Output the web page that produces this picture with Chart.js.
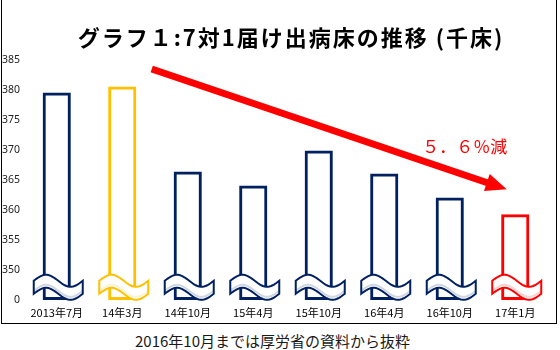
<!DOCTYPE html>
<html lang="ja">
<head>
<meta charset="utf-8">
<title>7対1届け出病床の推移</title>
<script src="https://cdn.jsdelivr.net/npm/chart.js@4/dist/chart.umd.min.js"></script>
<style>
  html, body { margin: 0; padding: 0; background: #fff; }
  body { width: 560px; height: 350px; position: relative; overflow: hidden; }
  #frame {
    position: absolute; left: 1px; top: -1px;
    width: 554px; height: 323px;
    border: 1px solid #000;
  }
  #wrap { position: absolute; left: 0; top: 0; width: 556px; height: 323px; }
  #note {
    position: absolute; left: 0; top: 331px; width: 545px;
    text-align: center;
    font: 15px "Noto Sans CJK JP", sans-serif;
    color: #1a1a1a;
    line-height: 20px;
  }
</style>
</head>
<body>
<div id="frame"></div>
<div id="wrap"><canvas id="bedChart" width="556" height="323"></canvas></div>
<div id="note">2016年10月までは厚労省の資料から抜粋</div>

<script>
// 7対1届け出病床数（千床）
const CATEGORIES = ['2013年7月', '14年3月', '14年10月', '15年4月', '15年10月', '16年4月', '16年10月', '17年1月'];
const BEDS = [379.6, 380.6, 366.4, 364.1, 369.9, 366.1, 362.1, 359.3];
const BAR_COLORS = ['#002060', '#FFC000', '#002060', '#002060', '#002060', '#002060', '#002060', '#FF0000'];

// y axis is cut: the bottom tick stands for 0
const Y_TICKS = [345, 350, 355, 360, 365, 370, 375, 380, 385];
const Y_TICK_LABELS = ['0', '350', '355', '360', '365', '370', '375', '380', '385'];
const Y_BASE = 345;

const TITLE = 'グラフ１:7対1届け出病床の推移 (千床)';
const DROP_LABEL = '５．６％減';

// wavy "break" ribbon over the foot of each bar
const breakRibbons = {
  id: 'breakRibbons',
  afterDatasetsDraw(chart) {
    const { ctx, scales: { x, y } } = chart;
    const top0 = y.getPixelForValue(Y_BASE + 3.2);
    const band = 13;
    const amp = 6;
    BEDS.forEach((_, i) => {
      const cx = x.getPixelForValue(i);
      const left = cx - 23;
      const right = cx + 26;
      const w = right - left;
      const topY = t => top0 - amp * Math.sin(Math.PI * 2 * t);
      const steps = 30;
      const outline = () => {
        ctx.beginPath();
        for (let s = 0; s <= steps; s++) {
          const t = s / steps;
          const px = left + w * t;
          if (s === 0) ctx.moveTo(px, topY(t)); else ctx.lineTo(px, topY(t));
        }
        for (let s = steps; s >= 0; s--) {
          const t = s / steps;
          ctx.lineTo(left + w * t, topY(t) + band);
        }
        ctx.closePath();
      };

      ctx.save();
      outline();
      ctx.fillStyle = '#fff';
      ctx.fill();

      // soft shading near the lower edge
      ctx.beginPath();
      for (let s = 0; s <= steps; s++) {
        const t = s / steps;
        const px = left + w * t;
        const py = topY(t) + band - 3;
        if (s === 0) ctx.moveTo(px, py); else ctx.lineTo(px, py);
      }
      ctx.strokeStyle = BAR_COLORS[i];
      ctx.globalAlpha = 0.18;
      ctx.lineWidth = 2;
      ctx.stroke();
      ctx.globalAlpha = 1;

      outline();
      ctx.strokeStyle = BAR_COLORS[i];
      ctx.lineWidth = 2;
      ctx.stroke();
      ctx.restore();
    });
  }
};

// title, trend arrow and its label
const annotations = {
  id: 'annotations',
  afterDraw(chart) {
    const { ctx, chartArea, scales: { x, y } } = chart;
    ctx.save();

    ctx.fillStyle = '#000';
    ctx.font = 'bold 22px "Noto Sans CJK JP", sans-serif';
    ctx.letterSpacing = '2px';
    ctx.textAlign = 'center';
    ctx.textBaseline = 'middle';
    ctx.fillText(TITLE, (chartArea.left + chartArea.right) / 2 + 5, 38);
    ctx.letterSpacing = '0px';

    const x0 = x.getPixelForValue(1.45), y0 = y.getPixelForValue(383.5);
    const x1 = x.getPixelForValue(6.87), y1 = y.getPixelForValue(363.45);
    const ang = Math.atan2(y1 - y0, x1 - x0);
    const headLen = 21, headHalf = 9;
    const bx = x1 - headLen * Math.cos(ang), by = y1 - headLen * Math.sin(ang);
    ctx.strokeStyle = '#FF0000';
    ctx.fillStyle = '#FF0000';
    ctx.lineWidth = 7;
    ctx.beginPath();
    ctx.moveTo(x0, y0);
    ctx.lineTo(bx + 2 * Math.cos(ang), by + 2 * Math.sin(ang));
    ctx.stroke();
    ctx.beginPath();
    ctx.moveTo(x1, y1);
    ctx.lineTo(bx + headHalf * Math.sin(ang), by - headHalf * Math.cos(ang));
    ctx.lineTo(bx - headHalf * Math.sin(ang), by + headHalf * Math.cos(ang));
    ctx.closePath();
    ctx.fill();

    ctx.font = '17px "Noto Sans CJK JP", sans-serif';
    ctx.fillText(DROP_LABEL, x.getPixelForValue(6.23), y.getPixelForValue(370.6));
    ctx.restore();
  }
};

new Chart(document.getElementById('bedChart'), {
  type: 'bar',
  data: {
    labels: CATEGORIES,
    datasets: [{
      data: BEDS,
      base: Y_BASE,
      backgroundColor: 'rgba(255,255,255,0)',
      borderColor: BAR_COLORS,
      borderWidth: 3,
      borderSkipped: false,
      barPercentage: 0.43,
      categoryPercentage: 1,
    }]
  },
  options: {
    responsive: false,
    animation: false,
    layout: { padding: { top: 60, right: 8, left: 0, bottom: 0 } },
    plugins: {
      legend: { display: false },
      tooltip: { enabled: false },
    },
    scales: {
      x: {
        grid: { display: false, drawTicks: false },
        border: { display: false },
        ticks: {
          color: '#000',
          padding: 6,
          maxRotation: 0,
          autoSkip: false,
          font: { family: '"Noto Sans CJK JP", sans-serif', size: 11 },
        },
        afterFit(scale) { scale.height = 23; },
      },
      y: {
        min: Y_BASE,
        max: 385,
        grid: { display: false, drawTicks: false },
        border: { display: false },
        afterBuildTicks(scale) { scale.ticks = Y_TICKS.map(v => ({ value: v })); },
        ticks: {
          color: '#222',
          padding: 4,
          font: { family: '"Noto Sans", sans-serif', size: 10.5 },
          callback: v => Y_TICK_LABELS[Y_TICKS.indexOf(v)],
        },
        afterFit(scale) { scale.width = 24; },
      }
    }
  },
  plugins: [breakRibbons, annotations]
});
</script>
</body>
</html>
